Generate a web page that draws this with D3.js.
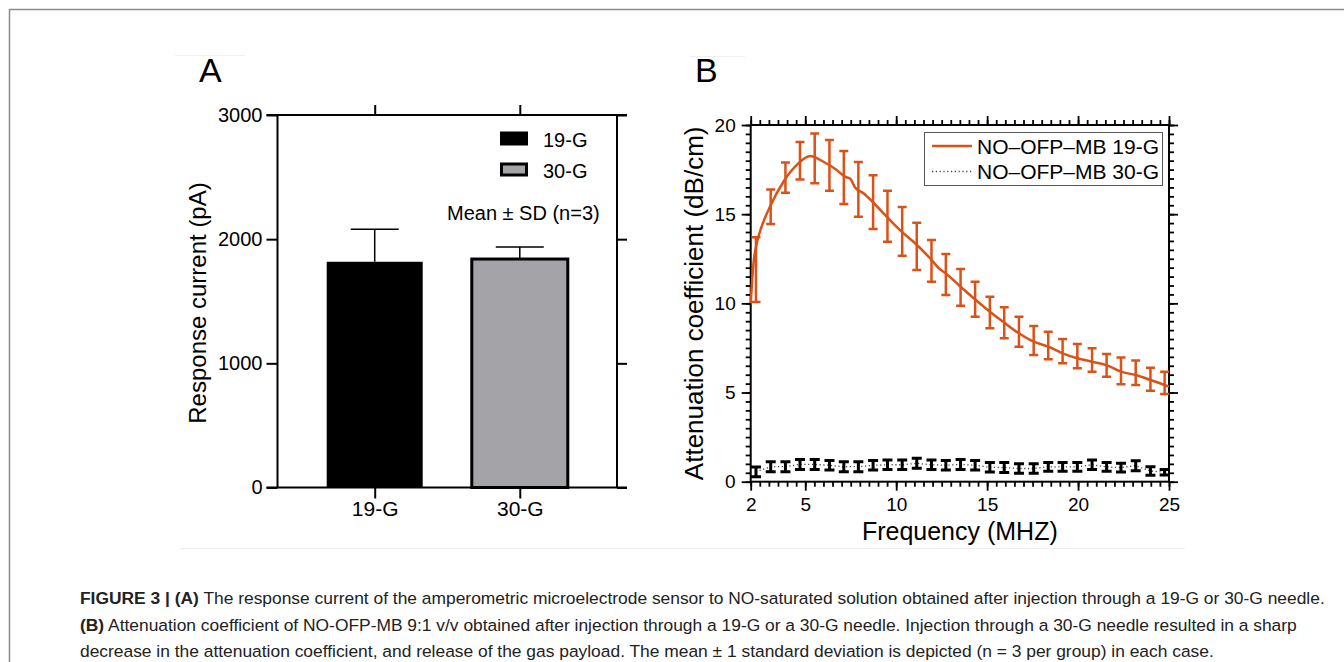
<!DOCTYPE html>
<html>
<head>
<meta charset="utf-8">
<script src="https://cdn.jsdelivr.net/npm/d3@7"></script>
<style>
  body { margin: 0; background: #fff; }
  svg { display: block; font-family: "Liberation Sans", Arial, Helvetica, sans-serif; }
</style>
</head>
<body>
<svg id="chart" width="1344" height="662"></svg>
<script>
// Panel A data
const groupsA = ['19-G', '30-G'];
const meanA = [1818, 1840];
const sdA = [262, 96];
const yTicksA = [0, 1000, 2000, 3000];

// Panel B data
const freqErr = [2.29, 3.10, 3.91, 4.71, 5.52, 6.33, 7.12, 7.92, 8.73, 9.52, 10.33, 11.13, 11.94, 12.73, 13.54,
  14.34, 15.15, 15.94, 16.75, 17.56, 18.36, 19.15, 19.96, 20.77, 21.57, 22.36, 23.17, 23.98, 24.76];
const lo19 = [10.07, 14.45, 16.2, 16.95, 16.73, 16.32, 15.57, 14.86, 14.17, 13.46, 12.67, 11.87, 11.21, 10.47, 9.87,
  9.25, 8.6, 8.04, 7.57, 7.1, 6.86, 6.64, 6.36, 6.17, 5.89, 5.46, 5.42, 5.1, 4.92];
const hi19 = [13.7, 16.39, 17.9, 19.05, 19.53, 19.16, 18.54, 17.93, 17.18, 16.32, 15.4, 14.52, 13.55, 12.77, 11.93,
  11.21, 10.37, 9.78, 9.25, 8.73, 8.41, 8.0, 7.72, 7.48, 7.16, 6.97, 6.79, 6.39, 6.17];
const freqLine = [2.0, 2.15, 2.34, 2.6, 3.06, 3.8, 4.62, 5.26, 6.0, 6.73, 7.19, 7.46, 7.74, 8.2, 8.75, 9.48, 10.3,
  11.04, 11.86, 12.41, 12.73, 13.54, 14.34, 15.15, 15.94, 16.75, 17.56, 18.36, 19.15, 19.96, 20.77, 21.57, 22.36,
  23.17, 23.98, 24.76, 25.0];
const att19 = [10.0, 12.2, 13.4, 14.3, 15.42, 16.82, 17.85, 18.26, 17.94, 17.48, 17.1, 17.0, 16.5, 16.17, 15.64, 14.86,
  14.02, 13.37, 12.53, 11.91, 11.68, 10.93, 10.22, 9.53, 8.92, 8.32, 7.85, 7.57, 7.2, 6.92, 6.73, 6.54, 6.17, 5.98,
  5.7, 5.42, 5.33];
const mean30 = [0.55, 0.84, 0.84, 0.97, 0.97, 0.92, 0.84, 0.84, 0.92, 0.95, 0.95, 1.03, 0.95, 0.92, 0.97,
  0.92, 0.81, 0.79, 0.74, 0.74, 0.83, 0.83, 0.83, 0.95, 0.83, 0.79, 0.9, 0.6, 0.53];
const sd30 = [0.27, 0.28, 0.28, 0.28, 0.28, 0.27, 0.28, 0.28, 0.27, 0.26, 0.26, 0.28, 0.26, 0.27, 0.28,
  0.27, 0.27, 0.28, 0.27, 0.27, 0.25, 0.25, 0.25, 0.26, 0.25, 0.25, 0.28, 0.24, 0.16];
const xTicksB = [2, 5, 10, 15, 20, 25];
const yTicksB = [0, 5, 10, 15, 20];
const seriesB = ['NO\u2013OFP\u2013MB 19-G', 'NO\u2013OFP\u2013MB 30-G'];

const orange = '#d95319';
const svg = d3.select('#chart');

// outer frame of the page
svg.append('path')
  .attr('d', 'M9.5,662V9.5H1344')
  .attr('fill', 'none')
  .attr('stroke', '#8c8c8c')
  .attr('stroke-width', 1.5);

// faint artefacts of the pasted figure
[[175, 245, 55.5], [690, 745, 56.5], [180, 1185, 548.5]].forEach(([a, b, y]) => {
  svg.append('line').attr('x1', a).attr('x2', b).attr('y1', y).attr('y2', y)
    .attr('stroke', '#efefef').attr('stroke-width', 1);
});

// ---------- Panel A ----------
const ax = { left: 277.5, right: 617, top: 115, bottom: 487.5 };
const xA = d3.scalePoint().domain(groupsA).range([ax.left, ax.right]).padding(0.67);
const yA = d3.scaleLinear().domain([0, 3000]).range([ax.bottom, ax.top]);
const barW = 96;
const gA = svg.append('g');

gA.append('text').attr('x', 199).attr('y', 82).attr('font-size', 34).text('A');

// bars
gA.selectAll('.bar')
  .data(groupsA)
  .enter()
  .append('rect')
  .attr('x', d => xA(d) - barW / 2)
  .attr('y', (d, i) => yA(meanA[i]))
  .attr('width', barW)
  .attr('height', (d, i) => yA(0) - yA(meanA[i]))
  .attr('fill', (d, i) => i === 0 ? '#000' : '#a3a3a8')
  .attr('stroke', '#000')
  .attr('stroke-width', (d, i) => i === 0 ? 0 : 3);

// error bars (upper only)
groupsA.forEach((g, i) => {
  const cx = xA(g);
  gA.append('path')
    .attr('d', `M${cx},${yA(meanA[i])}V${yA(meanA[i] + sdA[i])}M${cx - 24},${yA(meanA[i] + sdA[i])}H${cx + 24}`)
    .attr('fill', 'none').attr('stroke', '#000').attr('stroke-width', 1.5);
});

// axes A
const axisStyle = (sel, w) => {
  sel.select('.domain').remove();
  sel.selectAll('line').attr('stroke', '#000').attr('stroke-width', w);
  sel.selectAll('text').attr('fill', '#000');
};
gA.append('g')
  .attr('transform', `translate(${ax.left},0)`)
  .call(d3.axisLeft(yA).tickValues(yTicksA).tickSize(11).tickPadding(4).tickFormat(d3.format('d')))
  .call(s => axisStyle(s, 2))
  .selectAll('text').attr('font-size', 20).attr('font-family', 'Liberation Sans, Arial, sans-serif');
gA.append('g')
  .attr('transform', `translate(${ax.right},0)`)
  .call(d3.axisRight(yA).tickValues(yTicksA).tickSize(10).tickFormat(''))
  .call(s => axisStyle(s, 2));
gA.append('g')
  .attr('transform', `translate(0,${ax.bottom})`)
  .call(d3.axisBottom(xA).tickSize(11).tickPadding(3))
  .call(s => axisStyle(s, 2))
  .selectAll('text').attr('font-size', 21).attr('font-family', 'Liberation Sans, Arial, sans-serif');
gA.append('g')
  .attr('transform', `translate(0,${ax.top})`)
  .call(d3.axisTop(xA).tickSize(10).tickFormat(''))
  .call(s => axisStyle(s, 2));
gA.append('path')
  .attr('d', `M${ax.left - 11},${ax.top}H${ax.right + 10}M${ax.left},${ax.top}V${ax.bottom}M${ax.right},${ax.top}V${ax.bottom}M${ax.left - 11},${ax.bottom}H${ax.right + 10}`)
  .attr('fill', 'none').attr('stroke', '#000').attr('stroke-width', 2);

gA.append('text')
  .attr('transform', `translate(206,303) rotate(-90)`)
  .attr('text-anchor', 'middle')
  .attr('font-size', 24)
  .text('Response current (pA)');

// legend A
groupsA.forEach((g, i) => {
  const y = 132 + i * 31;
  gA.append('rect')
    .attr('x', 501.5).attr('y', y + 1).attr('width', 25).attr('height', 11)
    .attr('fill', i === 0 ? '#000' : '#a3a3a8')
    .attr('stroke', '#000').attr('stroke-width', 3);
  gA.append('text').attr('x', 543).attr('y', y + 14.5).attr('font-size', 20).text(g);
});
gA.append('text').attr('x', 447).attr('y', 220).attr('font-size', 20).text('Mean \u00b1 SD (n=3)');

// ---------- Panel B ----------
const bx = { left: 750.7, right: 1169, top: 125, bottom: 481.7 };
const xB = d3.scaleLinear().domain([2, 25]).range([bx.left, bx.right]);
const yB = d3.scaleLinear().domain([0, 20]).range([bx.bottom, bx.top]);
const gB = svg.append('g');

gB.append('text').attr('x', 695).attr('y', 82).attr('font-size', 34).text('B');

const minorX = d3.range(2, 25.01, 0.5);
const minorY = d3.range(0, 20.01, 0.5);
const tickStyle = s => {
  s.select('.domain').remove();
  s.selectAll('line').attr('stroke', '#000').attr('stroke-width', 1.8);
};
// minor ticks on all four sides
gB.append('g').attr('transform', `translate(0,${bx.bottom})`)
  .call(d3.axisBottom(xB).tickValues(minorX).tickSize(5).tickFormat('')).call(tickStyle);
gB.append('g').attr('transform', `translate(0,${bx.top})`)
  .call(d3.axisTop(xB).tickValues(minorX).tickSize(5).tickFormat('')).call(tickStyle);
gB.append('g').attr('transform', `translate(${bx.left},0)`)
  .call(d3.axisLeft(yB).tickValues(minorY).tickSize(5).tickFormat('')).call(tickStyle);
gB.append('g').attr('transform', `translate(${bx.right},0)`)
  .call(d3.axisRight(yB).tickValues(minorY).tickSize(5).tickFormat('')).call(tickStyle);
// major ticks with labels
gB.append('g').attr('transform', `translate(0,${bx.bottom})`)
  .call(d3.axisBottom(xB).tickValues(xTicksB).tickSize(9).tickPadding(7))
  .call(tickStyle)
  .selectAll('text').attr('fill', '#000').attr('font-size', 19).attr('font-family', 'Liberation Sans, Arial, sans-serif');
gB.append('g').attr('transform', `translate(0,${bx.top})`)
  .call(d3.axisTop(xB).tickValues(xTicksB).tickSize(9).tickFormat('')).call(tickStyle);
gB.append('g').attr('transform', `translate(${bx.left},0)`)
  .call(d3.axisLeft(yB).tickValues(yTicksB).tickSize(9).tickPadding(6))
  .call(tickStyle)
  .selectAll('text').attr('fill', '#000').attr('font-size', 19).attr('font-family', 'Liberation Sans, Arial, sans-serif');
gB.append('g').attr('transform', `translate(${bx.right},0)`)
  .call(d3.axisRight(yB).tickValues(yTicksB).tickSize(9).tickFormat('')).call(tickStyle);
gB.append('rect')
  .attr('x', bx.left).attr('y', bx.top)
  .attr('width', bx.right - bx.left).attr('height', bx.bottom - bx.top)
  .attr('fill', 'none').attr('stroke', '#000').attr('stroke-width', 2);

// 30-G series: dotted line and heavy error bars
gB.append('path')
  .datum(freqErr)
  .attr('d', d3.line().x(d => xB(d)).y((d, i) => yB(mean30[i])))
  .attr('fill', 'none').attr('stroke', '#444').attr('stroke-width', 1.3).attr('stroke-dasharray', '1.2,2.6');
gB.selectAll('.err30')
  .data(freqErr)
  .enter()
  .append('path')
  .attr('class', 'err30')
  .attr('d', (d, i) => {
    const x = xB(d), t = yB(mean30[i] + sd30[i]), b = yB(mean30[i] - sd30[i]);
    return `M${x},${t}V${b}M${x - 5},${t}H${x + 5}M${x - 5},${b}H${x + 5}`;
  })
  .attr('fill', 'none').attr('stroke', '#000').attr('stroke-width', 3);

// 19-G series: line and error bars
gB.append('path')
  .datum(freqLine)
  .attr('d', d3.line().x(d => xB(d)).y((d, i) => yB(att19[i])).curve(d3.curveMonotoneX))
  .attr('fill', 'none').attr('stroke', orange).attr('stroke-width', 2.5);
gB.selectAll('.err19')
  .data(freqErr)
  .enter()
  .append('path')
  .attr('class', 'err19')
  .attr('d', (d, i) => {
    const x = xB(d), t = yB(hi19[i]), b = yB(lo19[i]);
    return `M${x},${t}V${b}M${x - 4.5},${t}H${x + 4.5}M${x - 4.5},${b}H${x + 4.5}`;
  })
  .attr('fill', 'none').attr('stroke', orange).attr('stroke-width', 2.5);

// legend B
gB.append('rect')
  .attr('x', 924.5).attr('y', 132.5).attr('width', 238).attr('height', 53)
  .attr('fill', '#fff').attr('stroke', '#555').attr('stroke-width', 1);
seriesB.forEach((s, i) => {
  const y = 146 + i * 25.5;
  gB.append('line')
    .attr('x1', 932).attr('x2', 972).attr('y1', y).attr('y2', y)
    .attr('stroke', i === 0 ? orange : '#444')
    .attr('stroke-width', i === 0 ? 2.5 : 1.3)
    .attr('stroke-dasharray', i === 0 ? null : '1.2,2.6');
  gB.append('text').attr('x', 977).attr('y', y + 7.5).attr('font-size', 21).text(s);
});

gB.append('text')
  .attr('transform', `translate(703,${(bx.top + bx.bottom) / 2}) rotate(-90)`)
  .attr('text-anchor', 'middle')
  .attr('font-size', 26)
  .text('Attenuation coefficient (dB/cm)');
gB.append('text')
  .attr('x', (bx.left + bx.right) / 2).attr('y', 540)
  .attr('text-anchor', 'middle')
  .attr('font-size', 25)
  .text('Frequency (MHZ)');

// ---------- caption ----------
const caption = [
  [['FIGURE 3 | (A)', true], [' The response current of the amperometric microelectrode sensor to NO-saturated solution obtained after injection through a 19-G or 30-G needle.', false]],
  [['(B)', true], [' Attenuation coefficient of NO-OFP-MB 9:1 v/v obtained after injection through a 19-G or a 30-G needle. Injection through a 30-G needle resulted in a sharp', false]],
  [['decrease in the attenuation coefficient, and release of the gas payload. The mean \u00b1 1 standard deviation is depicted (n = 3 per group) in each case.', false]]
];
caption.forEach((parts, i) => {
  const t = svg.append('text')
    .attr('x', 80).attr('y', 604 + i * 26.5)
    .attr('font-size', 17.4)
    .attr('fill', '#222');
  parts.forEach(([str, bold]) => {
    t.append('tspan').attr('font-weight', bold ? 'bold' : 'normal').text(str);
  });
});
</script>
</body>
</html>
